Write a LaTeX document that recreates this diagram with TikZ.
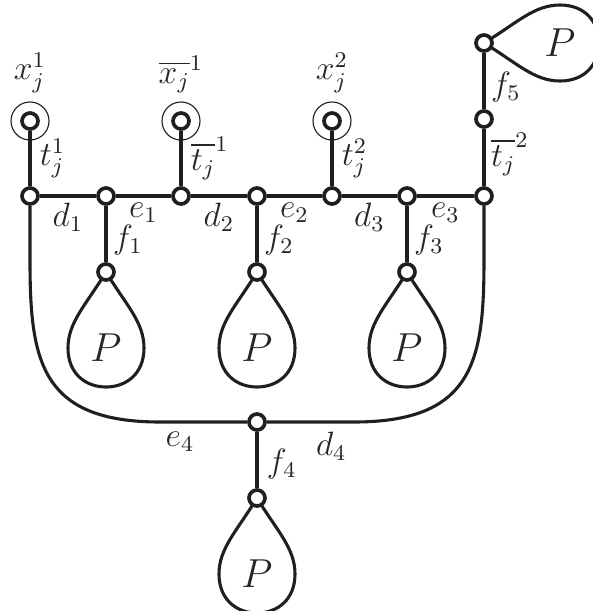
\documentclass[tikz,border=0pt]{standalone}
\usepackage{amsmath}
\usepackage{tikz}
\usetikzlibrary{positioning,backgrounds}

\begin{document}
\begin{tikzpicture}[
  x=0.0125cm, y=-0.0125cm,
  font=\large,
  vtx/.style  = {draw=black!88, circle, fill=white, line width=1.3pt, inner sep=0pt,
                 minimum size=0.2cm},
  ring/.style = {draw=black!88, circle, line width=0.4pt, inner sep=0pt,
                 minimum size=0.475cm},
  edge/.style = {line width=1.1pt, draw=black!88},
  lbl/.style  = {inner sep=2pt, text=black!85},
  drop/.pic   = {
    \draw[edge] (0,0) .. controls (-20,33) and (-38,50) .. (-38,76)
                      .. controls (-38,102) and (-20,115) .. (0,115)
                      .. controls (20,115) and (38,102) .. (38,76)
                      .. controls (38,50) and (20,33) .. (0,0);
    \node[lbl, font=\Large] (-P) at (0,76) {$P$};
  }
]
\useasboundingbox (0,0) rectangle (592,611);

% ---------------- main line ----------------
\node[vtx] (u1) at (30,196)  {};
\node[vtx] (u2) at (106,196) {};
\node[vtx] (u3) at (181,196) {};
\node[vtx] (u4) at (257,196) {};
\node[vtx] (u5) at (332,196) {};
\node[vtx] (u6) at (407,196) {};
\node[vtx] (u7) at (484,196) {};

% ---------------- literal terminals ----------------
\node[ring] (r1) at (30,121)  {};
\node[ring] (r2) at (181,121) {};
\node[ring] (r3) at (332,121) {};
\node[vtx] (l1) at (r1) {};
\node[vtx] (l2) at (r2) {};
\node[vtx] (l3) at (r3) {};
\node[lbl, above=1pt of r1] (x1)  {$x_j^1$};
\node[lbl, above=1pt of r2] (xb1) {$\overline{x_j}^1$};
\node[lbl, above=1pt of r3] (x2)  {$x_j^2$};

% ---------------- pendant vertices ----------------
\node[vtx] (p1) at (106,272) {};
\node[vtx] (p2) at (257,272) {};
\node[vtx] (p3) at (407,272) {};
\node[vtx] (w)  at (257,422) {};
\node[vtx] (p4) at (257,498) {};
\node[vtx] (m5) at (484,119) {};
\node[vtx] (p5) at (484,43)  {};

% corners of the outer edge
\coordinate (bl1) at (30,260);
\coordinate (bl2) at (160,422);
\coordinate (br1) at (484,260);
\coordinate (br2) at (354,422);

% loops sit behind the vertices
\begin{scope}[on background layer]
  \pic (d1) at (p1) {drop};
  \pic (d2) at (p2) {drop};
  \pic (d3) at (p3) {drop};
  \pic (d4) at (p4) {drop};
  \pic[rotate=90] (d5) at (p5) {drop};
\end{scope}

\draw[edge] (l1) -- node[lbl, right=1pt] {$t_j^1$} (u1);
\draw[edge] (l2) -- node[lbl, right=1pt] {$\overline{t_j}^1$} (u3);
\draw[edge] (l3) -- node[lbl, right=1pt] {$t_j^2$} (u5);
\draw[edge] (p5) -- node[lbl, right, pos=.6]  {$f_5$} (m5);
\draw[edge] (m5) -- node[lbl, right, pos=.45] {$\overline{t_j}^2$} (u7);

\draw[edge] (u1) -- node[lbl, below] {$d_1$} (u2);
\draw[edge] (u2) -- node[lbl, below] {$e_1$} (u3);
\draw[edge] (u3) -- node[lbl, below] {$d_2$} (u4);
\draw[edge] (u4) -- node[lbl, below] {$e_2$} (u5);
\draw[edge] (u5) -- node[lbl, below] {$d_3$} (u6);
\draw[edge] (u6) -- node[lbl, below] {$e_3$} (u7);

\draw[edge] (u2) -- node[lbl, right, pos=.6] {$f_1$} (p1);
\draw[edge] (u4) -- node[lbl, right, pos=.6] {$f_2$} (p2);
\draw[edge] (u6) -- node[lbl, right, pos=.6] {$f_3$} (p3);
\draw[edge] (w)  -- node[lbl, right=1pt, pos=.57] {$f_4$} (p4);

\draw[edge] (u1) -- (bl1) .. controls (30,360) and (40,422) .. (bl2)
  -- node[lbl, below=1pt, pos=.23] {$e_4$} (w);
\draw[edge] (w) -- node[lbl, below=1pt, pos=.74] {$d_4$} (br2)
  .. controls (474,422) and (484,360) .. (br1) -- (u7);

\end{tikzpicture}
\end{document}
